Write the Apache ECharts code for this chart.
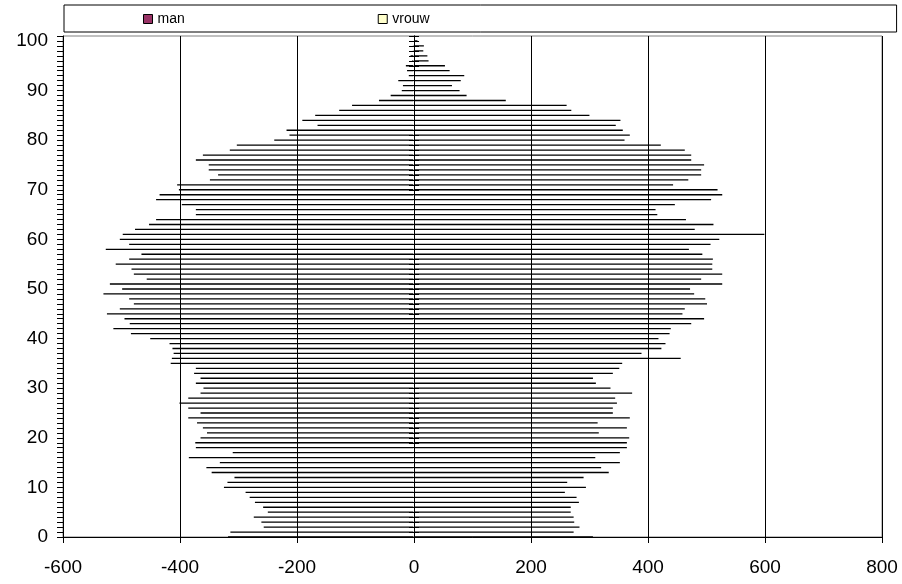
<!DOCTYPE html>
<html>
<head>
<meta charset="utf-8">
<script src="https://cdn.jsdelivr.net/npm/echarts@6/dist/echarts.min.js"></script>
<style>
html,body{margin:0;padding:0;background:#fff;}
#chart{width:902px;height:584px;}
</style>
</head>
<body>
<div id="chart"></div>
<script>
// Ages 0..100 (plus one empty slot on top of the axis)
const ages = [0,1,2,3,4,5,6,7,8,9,10,11,12,13,14,15,16,17,18,19,20,21,22,23,24,25,26,27,28,29,30,31,32,33,34,35,36,37,38,39,40,41,42,43,44,45,46,47,48,49,50,51,52,53,54,55,56,57,58,59,60,61,62,63,64,65,66,67,68,69,70,71,72,73,74,75,76,77,78,79,80,81,82,83,84,85,86,87,88,89,90,91,92,93,94,95,96,97,98,99,100,''];

// man (plotted to the left, negative)
const man = [-319,-315,-258,-262,-275,-251,-259,-273,-282,-289,
  -326,-320,-308,-347,-356,-333,-386,-311,-374,-375,
  -366,-355,-362,-372,-387,-366,-387,-402,-387,-366,
  -361,-374,-366,-377,-374,-417,-415,-412,-414,-419,
  -452,-485,-515,-487,-496,-526,-504,-480,-488,-532,
  -500,-521,-458,-480,-484,-511,-488,-467,-528,-488,
  -504,-499,-478,-454,-442,-374,-374,-398,-442,-436,
  -403,-406,-350,-336,-352,-352,-374,-362,-316,-304,
  -240,-214,-219,-166,-192,-170,-129,-107,-61,-41,
  -22,-20,-28,-10,-13,-15,-4,-7,-2,-2,
  -2];

// vrouw (plotted to the right)
const vrouw = [307,274,284,275,274,269,269,283,279,259,
  295,263,291,334,321,353,311,353,365,365,
  369,317,365,315,370,341,341,348,345,374,
  337,312,307,341,352,357,457,390,424,431,
  419,438,440,475,497,460,464,502,499,480,
  473,528,492,528,511,511,512,494,471,508,
  523,600,481,513,466,417,414,447,509,528,
  520,444,470,492,492,497,475,475,464,423,
  361,370,358,346,354,301,270,262,158,91,
  79,66,81,87,62,54,26,24,17,18,
  7];

const seriesNames = ['man','vrouw'];
const seriesColors = ['#993366','#FFFFCC'];

const chart = echarts.init(document.getElementById('chart'), null, {renderer:'canvas'});
const font = 'Liberation Sans, Arial, sans-serif';

const option = {
  animation: false,
  backgroundColor: '#ffffff',
  legend: {
    data: [
      {name: seriesNames[0], itemStyle: {color: seriesColors[0], borderColor: '#000', borderWidth: 1}},
      {name: seriesNames[1], itemStyle: {color: seriesColors[1], borderColor: '#000', borderWidth: 1}}
    ],
    left: 64, top: 5,
    padding: [7, 467, 6, 79],
    itemGap: 193,
    itemWidth: 9, itemHeight: 9,
    icon: 'rect',
    borderColor: '#000', borderWidth: 1,
    backgroundColor: '#fff',
    textStyle: {fontFamily: font, fontSize: 14, color: '#000'}
  },
  grid: {
    left: 63, right: 20, top: 36, bottom: 47,
    show: true, borderColor: '#808080', borderWidth: 1, backgroundColor: '#fff',
    containLabel: false
  },
  xAxis: {
    type: 'value', min: -600, max: 800, interval: 200,
    axisLine: {show: true, onZero: false, lineStyle: {color: '#000', width: 1}},
    axisTick: {show: true, length: 6, lineStyle: {color: '#000'}},
    splitLine: {show: true, lineStyle: {color: '#000', width: 1}},
    axisLabel: {fontFamily: font, fontSize: 19, color: '#000', margin: 21}
  },
  yAxis: [
    {
      type: 'category', data: ages, boundaryGap: false, position: 'left',
      axisLine: {show: true, onZero: false, lineStyle: {color: '#000'}},
      axisTick: {show: true, interval: 0, length: 6, lineStyle: {color: '#000'}},
      axisLabel: {interval: 9, fontFamily: font, fontSize: 19, color: '#000', margin: 15},
      splitLine: {show: false}
    },
    {
      type: 'category', data: ages, boundaryGap: false, position: 'left',
      axisLine: {show: true, onZero: true, onZeroAxisIndex: 0, lineStyle: {color: '#000'}},
      axisTick: {show: true, interval: 0, length: 5, lineStyle: {color: '#000'}},
      axisLabel: {show: false},
      splitLine: {show: false}
    },
    {
      type: 'category', data: ages, boundaryGap: false, position: 'right',
      axisLine: {show: true, onZero: true, onZeroAxisIndex: 0, lineStyle: {color: '#000'}},
      axisTick: {show: true, interval: 0, length: 5, lineStyle: {color: '#000'}},
      axisLabel: {show: false},
      splitLine: {show: false}
    }
  ],
  series: [
    {
      name: seriesNames[0], type: 'bar', data: man, yAxisIndex: 0,
      barWidth: 1.3, barGap: '-100%', clip: false,
      itemStyle: {color: seriesColors[0], borderColor: '#000', borderWidth: 1.3}
    },
    {
      name: seriesNames[1], type: 'bar', data: vrouw, yAxisIndex: 0,
      barWidth: 1.3, barGap: '-100%', clip: false,
      itemStyle: {color: seriesColors[1], borderColor: '#000', borderWidth: 1.3}
    }
  ]
};
chart.setOption(option);
</script>
</body>
</html>
